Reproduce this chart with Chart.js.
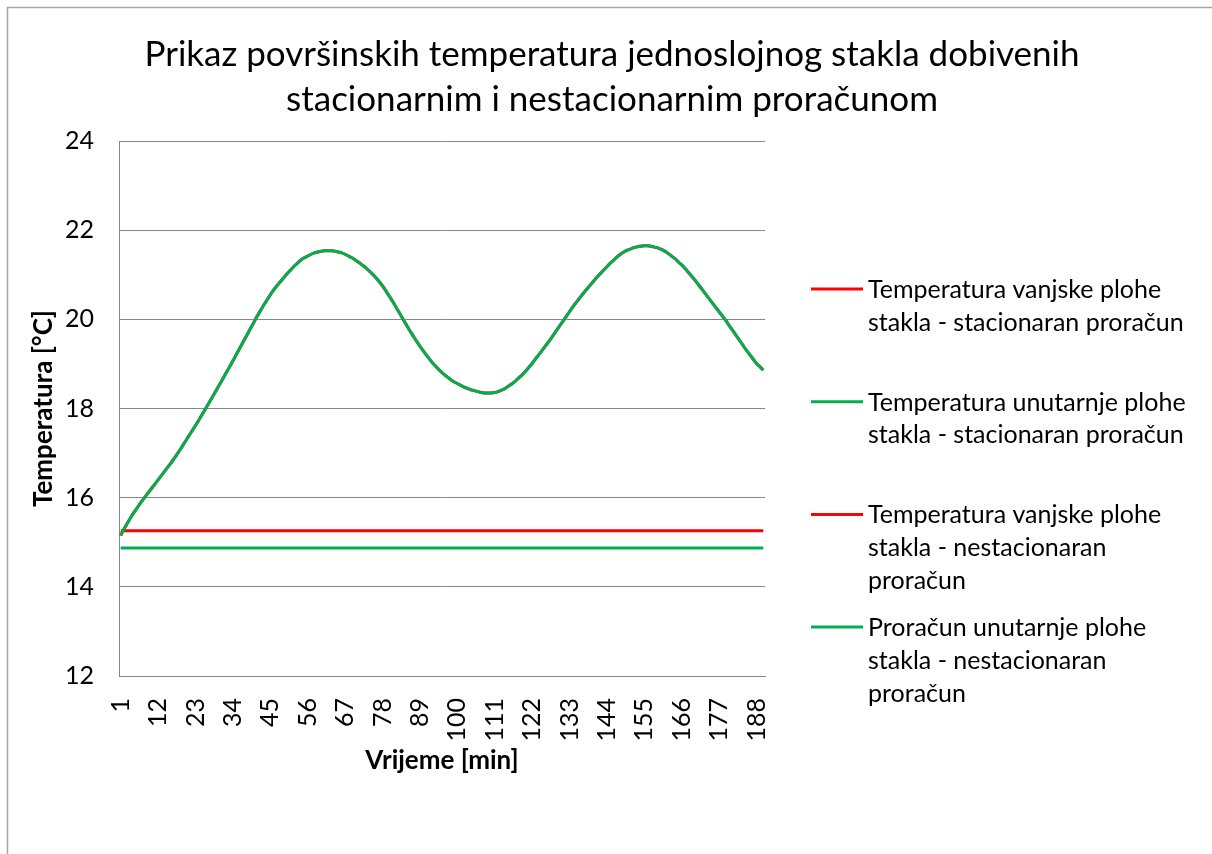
<!DOCTYPE html>
<html>
<head>
<meta charset="utf-8">
<title>Površinske temperature stakla</title>
<script src="https://cdn.jsdelivr.net/npm/chart.js@4.4.1/dist/chart.umd.min.js"></script>
<style>
    html, body { margin: 0; padding: 0; background: #fff; }
    canvas { display: block; }
</style>
</head>
<body>
<canvas id="tempChart" width="1212" height="854"></canvas>
<script>
// ==========================
// DATA
// ==========================
const minutes = Array.from({ length: 190 }, (_, i) => i + 1);
const yTicks = [12, 14, 16, 18, 20, 22, 24];

const steadyOuterValue = 15.26;
const steadyInnerValue = 14.87;

// nestacionarni proracun, vrijednosti po minuti
const transientOuter = [
    15.15, 15.30, 15.43, 15.56, 15.68, 15.79, 15.90, 16.00, 16.10, 16.20,
    16.30, 16.40, 16.50, 16.60, 16.70, 16.80, 16.91, 17.02, 17.14, 17.26,
    17.38, 17.50, 17.62, 17.74, 17.87, 18.00, 18.13, 18.26, 18.39, 18.53,
    18.66, 18.80, 18.93, 19.07, 19.21, 19.35, 19.49, 19.63, 19.77, 19.91,
    20.05, 20.18, 20.31, 20.43, 20.55, 20.66, 20.76, 20.85, 20.94, 21.03,
    21.11, 21.19, 21.26, 21.33, 21.38, 21.42, 21.46, 21.49, 21.51, 21.53,
    21.54, 21.54, 21.54, 21.53, 21.51, 21.49, 21.46, 21.42, 21.38, 21.33,
    21.28, 21.22, 21.16, 21.09, 21.02, 20.94, 20.85, 20.75, 20.64, 20.52,
    20.40, 20.27, 20.14, 20.01, 19.88, 19.75, 19.63, 19.51, 19.40, 19.29,
    19.19, 19.09, 19.00, 18.92, 18.84, 18.77, 18.71, 18.65, 18.60, 18.56,
    18.52, 18.48, 18.45, 18.42, 18.40, 18.38, 18.36, 18.35, 18.35, 18.35,
    18.36, 18.38, 18.41, 18.45, 18.50, 18.55, 18.61, 18.68, 18.75, 18.83,
    18.92, 19.01, 19.11, 19.21, 19.31, 19.41, 19.51, 19.62, 19.73, 19.84,
    19.95, 20.06, 20.17, 20.28, 20.38, 20.48, 20.58, 20.67, 20.76, 20.85,
    20.94, 21.02, 21.10, 21.18, 21.26, 21.33, 21.40, 21.46, 21.51, 21.55,
    21.58, 21.61, 21.63, 21.64, 21.65, 21.65, 21.64, 21.62, 21.60, 21.57,
    21.53, 21.48, 21.42, 21.36, 21.29, 21.22, 21.14, 21.05, 20.96, 20.87,
    20.77, 20.67, 20.57, 20.47, 20.37, 20.27, 20.17, 20.07, 19.97, 19.86,
    19.75, 19.64, 19.53, 19.42, 19.31, 19.21, 19.11, 19.01, 18.94, 18.86
];
// unutarnja ploha se poklapa s vanjskom
const transientInner = transientOuter.slice();

const steadyOuter = minutes.map(() => steadyOuterValue);
const steadyInner = minutes.map(() => steadyInnerValue);

const titleLines = [
    "Prikaz površinskih temperatura jednoslojnog stakla dobivenih",
    "stacionarnim i nestacionarnim proračunom"
];
const legendLines = [
    ["Temperatura vanjske plohe", "stakla - stacionaran proračun"],
    ["Temperatura unutarnje plohe", "stakla - stacionaran proračun"],
    ["Temperatura vanjske plohe", "stakla - nestacionaran", "proračun"],
    ["Proračun unutarnje plohe", "stakla - nestacionaran", "proračun"]
];

const RED = "#ff0000";
const GREEN = "#00b050";
const FONT = "Lato, 'Open Sans', sans-serif";

// ==========================
// FRAME + TITLE + LEGEND
// ==========================
const framePlugin = {
    id: "frame",
    beforeDraw(chart) {
        const ctx = chart.ctx;
        ctx.save();
        ctx.fillStyle = "#fff";
        ctx.fillRect(0, 0, chart.width, chart.height);
        ctx.strokeStyle = "#a6a6a6";
        ctx.lineWidth = 1.5;
        ctx.strokeRect(7.5, 7.5, chart.width + 50, chart.height + 50);
        ctx.restore();
    },
    afterDraw(chart) {
        const ctx = chart.ctx;
        ctx.save();
        ctx.fillStyle = "#000";
        ctx.textAlign = "center";
        ctx.textBaseline = "middle";
        ctx.font = "35px " + FONT;
        titleLines.forEach((line, i) => ctx.fillText(line, 612, 55 + i * 45));

        // legenda
        ctx.textAlign = "left";
        ctx.font = "25px " + FONT;
        chart.data.datasets.forEach((ds, i) => {
            const y = 289 + i * 112.7;
            ctx.strokeStyle = ds.borderColor;
            ctx.lineWidth = 3;
            ctx.beginPath();
            ctx.moveTo(811, y);
            ctx.lineTo(863, y);
            ctx.stroke();
            legendLines[i].forEach((t, k) => ctx.fillText(t, 868, y + 1 + k * 32.7));
        });
        ctx.restore();
    }
};

// ==========================
// CHART
// ==========================
const ctx = document.getElementById("tempChart");

new Chart(ctx, {
    type: "line",
    data: {
        labels: minutes,
        datasets: [
            { label: legendLines[0].join(" "), data: steadyOuter, borderColor: RED, order: 4 },
            { label: legendLines[1].join(" "), data: steadyInner, borderColor: GREEN, order: 3 },
            { label: legendLines[2].join(" "), data: transientOuter, borderColor: RED, order: 2 },
            { label: legendLines[3].join(" "), data: transientInner, borderColor: GREEN, order: 1 }
        ]
    },
    options: {
        responsive: false,
        animation: false,
        layout: { padding: { left: 0, right: 447, top: 141, bottom: 0 } },
        elements: {
            point: { radius: 0 },
            line: { borderWidth: 3, tension: 0.3, fill: false }
        },
        plugins: {
            legend: { display: false },
            title: { display: false },
            tooltip: { enabled: false }
        },
        scales: {
            x: {
                type: "category",
                offset: true,
                afterFit(scale) { scale.height = 178; },
                grid: { display: false, drawTicks: false },
                border: { color: "#868686", width: 1 },
                ticks: {
                    autoSkip: false,
                    maxRotation: 90,
                    minRotation: 90,
                    padding: 22,
                    color: "#000",
                    font: { family: FONT, size: 25 },
                    callback(value, index) {
                        return index % 11 === 0 ? String(minutes[index]) : null;
                    }
                },
                title: {
                    display: true,
                    text: "Vrijeme [min]",
                    color: "#000",
                    font: { family: FONT, size: 26, weight: "bold" },
                    padding: { top: 0, bottom: 78 }
                }
            },
            y: {
                min: 12,
                max: 24,
                afterFit(scale) { scale.width = 119; },
                afterBuildTicks(scale) { scale.ticks = yTicks.map(v => ({ value: v })); },
                grid: { color: "#868686", lineWidth: 1, drawTicks: false },
                border: { color: "#868686", width: 1 },
                ticks: {
                    padding: 25,
                    color: "#000",
                    font: { family: FONT, size: 25 }
                },
                title: {
                    display: true,
                    text: "Temperatura [°C]",
                    color: "#000",
                    font: { family: FONT, size: 26, weight: "bold" },
                    padding: { top: 28, bottom: 0 }
                }
            }
        }
    },
    plugins: [framePlugin]
});
</script>
</body>
</html>
